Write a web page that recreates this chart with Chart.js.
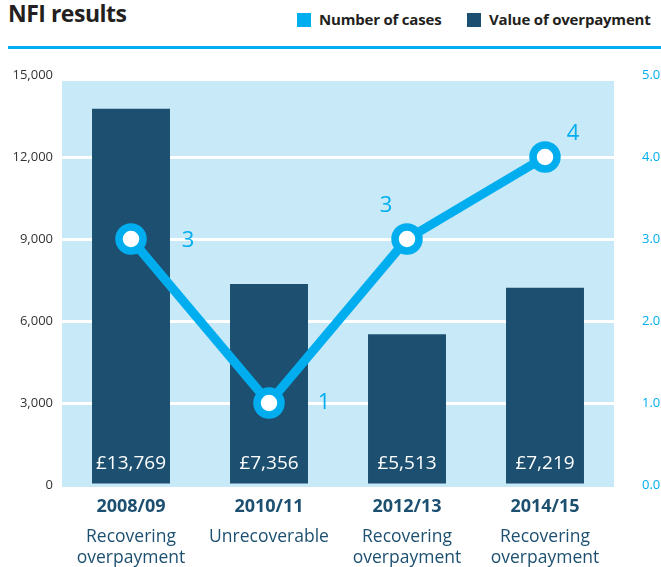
<!DOCTYPE html>
<html>
<head>
<meta charset="utf-8">
<script src="https://cdn.jsdelivr.net/npm/chart.js@4"></script>
<style>
  body { margin: 0; background: #fff; font-family: "Open Sans", sans-serif; }
  #wrap { position: relative; width: 661px; height: 567px; overflow: hidden; }
  #title { position: absolute; left: 8px; top: -3px; font-size: 23px; font-weight: bold; color: #231f20; letter-spacing: -0.5px; }
  .leg { position: absolute; top: 9px; font-size: 15px; font-weight: bold; color: #231f20; white-space: nowrap; letter-spacing: -0.2px; }
  .leg span { display: inline-block; width: 14px; height: 14px; vertical-align: -2px; margin-right: 8px; }
  #rule { position: absolute; left: 8px; right: 0; top: 46px; height: 3px; background: #00aeef; }
  canvas { position: absolute; left: 0; top: 0; }
</style>
</head>
<body>
<div id="wrap">
  <div id="title">NFI results</div>
  <div class="leg" style="left:297px"><span style="background:#00aeef"></span>Number of cases</div>
  <div class="leg" style="left:467px"><span style="background:#1d5070"></span>Value of overpayment</div>
  <div id="rule"></div>
  <canvas id="graph" width="661" height="567"></canvas>
</div>
<script>
// données
const annees = ['2008/09', '2010/11', '2012/13', '2014/15'];
const descriptions = [['Recovering', 'overpayment'], ['Unrecoverable'], ['Recovering', 'overpayment'], ['Recovering', 'overpayment']];
const valeurs = [13769, 7356, 5513, 7219];
const nombreCas = [3, 1, 3, 4];
const ticksGauche = [0, 3000, 6000, 9000, 12000, 15000];
const ticksDroite = [0, 1, 2, 3, 4, 5];

const bleu = '#00aeef';
const marine = '#1d5070';
const police = '"Open Sans", sans-serif';

// position des chiffres autour des points (style)
const decalages = [[57, 2], [55, 0], [-21, -33], [28, -23]];

const fondPlugin = {
  id: 'fond',
  beforeDraw(chart) {
    const { ctx, chartArea: a } = chart;
    ctx.save();
    ctx.fillStyle = '#c7e9f8';
    ctx.fillRect(a.left, a.top + 6, a.right - a.left, a.bottom - a.top - 4);
    ctx.restore();
  }
};

const etiquettesPlugin = {
  id: 'etiquettes',
  afterDatasetsDraw(chart) {
    const { ctx, chartArea: a } = chart;
    ctx.save();
    ctx.textAlign = 'center';
    ctx.textBaseline = 'middle';
    // montants dans les barres
    ctx.fillStyle = '#ffffff';
    ctx.font = '19px ' + police;
    chart.getDatasetMeta(1).data.forEach((bar, i) => {
      ctx.fillText('£' + valeurs[i].toLocaleString('en-GB'), bar.x, a.bottom - 21);
    });
    // nombre de cas
    ctx.fillStyle = bleu;
    ctx.font = '22px ' + police;
    chart.getDatasetMeta(0).data.forEach((pt, i) => {
      ctx.fillText(String(nombreCas[i]), pt.x + decalages[i][0], pt.y + decalages[i][1]);
    });
    ctx.restore();
  }
};

const ctx = document.getElementById('graph').getContext('2d');
new Chart(ctx, {
  data: {
    labels: annees,
    datasets: [
      {
        type: 'line',
        label: 'Number of cases',
        data: nombreCas,
        yAxisID: 'y2',
        order: 0,
        borderColor: bleu,
        borderWidth: 9,
        pointRadius: 12,
        pointBorderWidth: 7.5,
        pointBackgroundColor: '#ffffff',
        pointBorderColor: bleu,
        tension: 0
      },
      {
        type: 'bar',
        label: 'Value of overpayment',
        data: valeurs,
        yAxisID: 'y',
        order: 1,
        backgroundColor: marine,
        barPercentage: 0.565,
        categoryPercentage: 1
      }
    ]
  },
  options: {
    responsive: false,
    animation: false,
    layout: { padding: { top: 75, left: 0, right: 0, bottom: 0 } },
    plugins: { legend: { display: false }, tooltip: { enabled: false } },
    scales: {
      x: {
        position: 'bottom',
        offset: true,
        grid: { display: false },
        border: { display: false },
        ticks: { color: marine, font: { family: police, size: 18, weight: 'bold' }, padding: 3 },
        afterFit(s) { s.height = 30; }
      },
      x2: {
        type: 'category',
        position: 'bottom',
        offset: true,
        labels: descriptions,
        grid: { display: false },
        border: { display: false },
        ticks: { color: marine, font: { family: police, size: 17.5, lineHeight: 1.22 }, padding: 3 },
        afterFit(s) { s.height = 52; }
      },
      y: {
        position: 'left',
        min: 0,
        max: 15000,
        afterBuildTicks(s) { s.ticks = ticksGauche.map(v => ({ value: v })); },
        ticks: {
          color: '#333333',
          font: { family: police, size: 13 },
          padding: 9,
          callback: v => v.toLocaleString('en-GB')
        },
        grid: {
          drawTicks: false,
          lineWidth: 3,
          color: c => (c.tick && (c.tick.value === 0 || c.tick.value === 15000)) ? 'rgba(0,0,0,0)' : '#ffffff'
        },
        border: { display: false },
        afterFit(s) { s.width = 62; }
      },
      y2: {
        position: 'right',
        min: 0,
        max: 5,
        afterBuildTicks(s) { s.ticks = ticksDroite.map(v => ({ value: v })); },
        ticks: {
          color: bleu,
          font: { family: police, size: 13 },
          padding: 28,
          callback: v => Number(v).toFixed(1)
        },
        grid: { display: false, drawTicks: false },
        border: { display: false },
        afterFit(s) { s.width = 47; }
      }
    }
  },
  plugins: [fondPlugin, etiquettesPlugin]
});
</script>
</body>
</html>
